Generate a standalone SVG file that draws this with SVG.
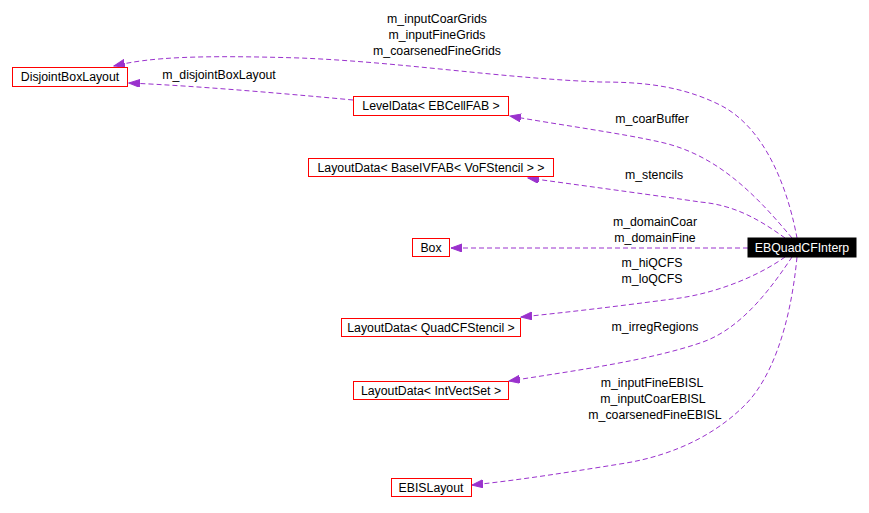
<svg xmlns="http://www.w3.org/2000/svg" width="869" height="513" viewBox="0 0 869 513">
<style>
  .node rect { fill: #ffffff; stroke: #ff0000; stroke-width: 1; }
  .node text, .lbl { font-family: "Liberation Sans", Arial, sans-serif; font-size: 12.3px; fill: #000000; text-anchor: middle; }
  #n_main rect { fill: #000000; stroke: #000000; }
  #n_main text { fill: #ffffff; }
  .edge { fill: none; stroke: #9a32cd; stroke-width: 1; stroke-dasharray: 5,3; marker-end: url(#arr); }
</style>
<defs>
  <marker id="arr" markerUnits="userSpaceOnUse" markerWidth="12" markerHeight="10" refX="11" refY="4" orient="auto">
    <path d="M0,0 L11,4 L0,8 Z" fill="#9a32cd" stroke="#9a32cd"/>
  </marker>
</defs>
<rect width="869" height="513" fill="#ffffff"/>
<g id="edges">
  <path class="edge" d="M797,238 C790,200 770,130 720,105 C680,85 640,82 600,82 C500,78 400,62 300,58 C200,55 150,57 114,66"/>
  <path class="edge" d="M353,100 C300,95 200,86 129,83"/>
  <path class="edge" d="M792,238 C760,200 720,155 660,142 C620,133 560,125 510,116"/>
  <path class="edge" d="M785,238 C760,220 735,205 700,202 C660,196 600,188 528,178"/>
  <path class="edge" d="M748,248 L451,248"/>
  <path class="edge" d="M785,257 C760,275 720,292 680,298 C620,306 570,312 521,317"/>
  <path class="edge" d="M792,257 C770,290 740,330 700,343 C650,360 580,370 509,381"/>
  <path class="edge" d="M797,257 C790,330 770,380 745,405 C720,430 680,455 620,464 C570,472 520,480 472,485"/>
  <text class="lbl" x="437" y="23">m_inputCoarGrids</text>
  <text class="lbl" x="437" y="39">m_inputFineGrids</text>
  <text class="lbl" x="437" y="55">m_coarsenedFineGrids</text>
  <text class="lbl" x="219" y="79">m_disjointBoxLayout</text>
  <text class="lbl" x="652" y="123">m_coarBuffer</text>
  <text class="lbl" x="654" y="179">m_stencils</text>
  <text class="lbl" x="655" y="226">m_domainCoar</text>
  <text class="lbl" x="655" y="242">m_domainFine</text>
  <text class="lbl" x="652" y="267">m_hiQCFS</text>
  <text class="lbl" x="652" y="283">m_loQCFS</text>
  <text class="lbl" x="655" y="331">m_irregRegions</text>
  <text class="lbl" x="652" y="387">m_inputFineEBISL</text>
  <text class="lbl" x="653" y="403">m_inputCoarEBISL</text>
  <text class="lbl" x="655" y="419">m_coarsenedFineEBISL</text>
</g>
<g id="n_main" class="node">
  <rect x="748" y="238" width="108" height="19"/>
  <text x="802" y="252">EBQuadCFInterp</text>
</g>
<g id="n_dbl" class="node">
  <rect x="12.5" y="67.5" width="115" height="19"/>
  <text x="70" y="81">DisjointBoxLayout</text>
</g>
<g id="n_level" class="node">
  <rect x="353.5" y="96.5" width="155" height="19"/>
  <text x="431" y="110">LevelData&lt; EBCellFAB &gt;</text>
</g>
<g id="n_stencil" class="node">
  <rect x="308.5" y="158.5" width="245" height="18"/>
  <text x="431" y="172">LayoutData&lt; BaseIVFAB&lt; VoFStencil &gt; &gt;</text>
</g>
<g id="n_box" class="node">
  <rect x="412.5" y="238.5" width="37" height="18"/>
  <text x="431" y="252">Box</text>
</g>
<g id="n_qcfs" class="node">
  <rect x="341.5" y="318.5" width="179" height="18"/>
  <text x="431" y="332">LayoutData&lt; QuadCFStencil &gt;</text>
</g>
<g id="n_ivs" class="node">
  <rect x="353.5" y="381.5" width="155" height="18"/>
  <text x="431" y="395">LayoutData&lt; IntVectSet &gt;</text>
</g>
<g id="n_ebisl" class="node">
  <rect x="391.5" y="478.5" width="80" height="18"/>
  <text x="431" y="492">EBISLayout</text>
</g>
</svg>
